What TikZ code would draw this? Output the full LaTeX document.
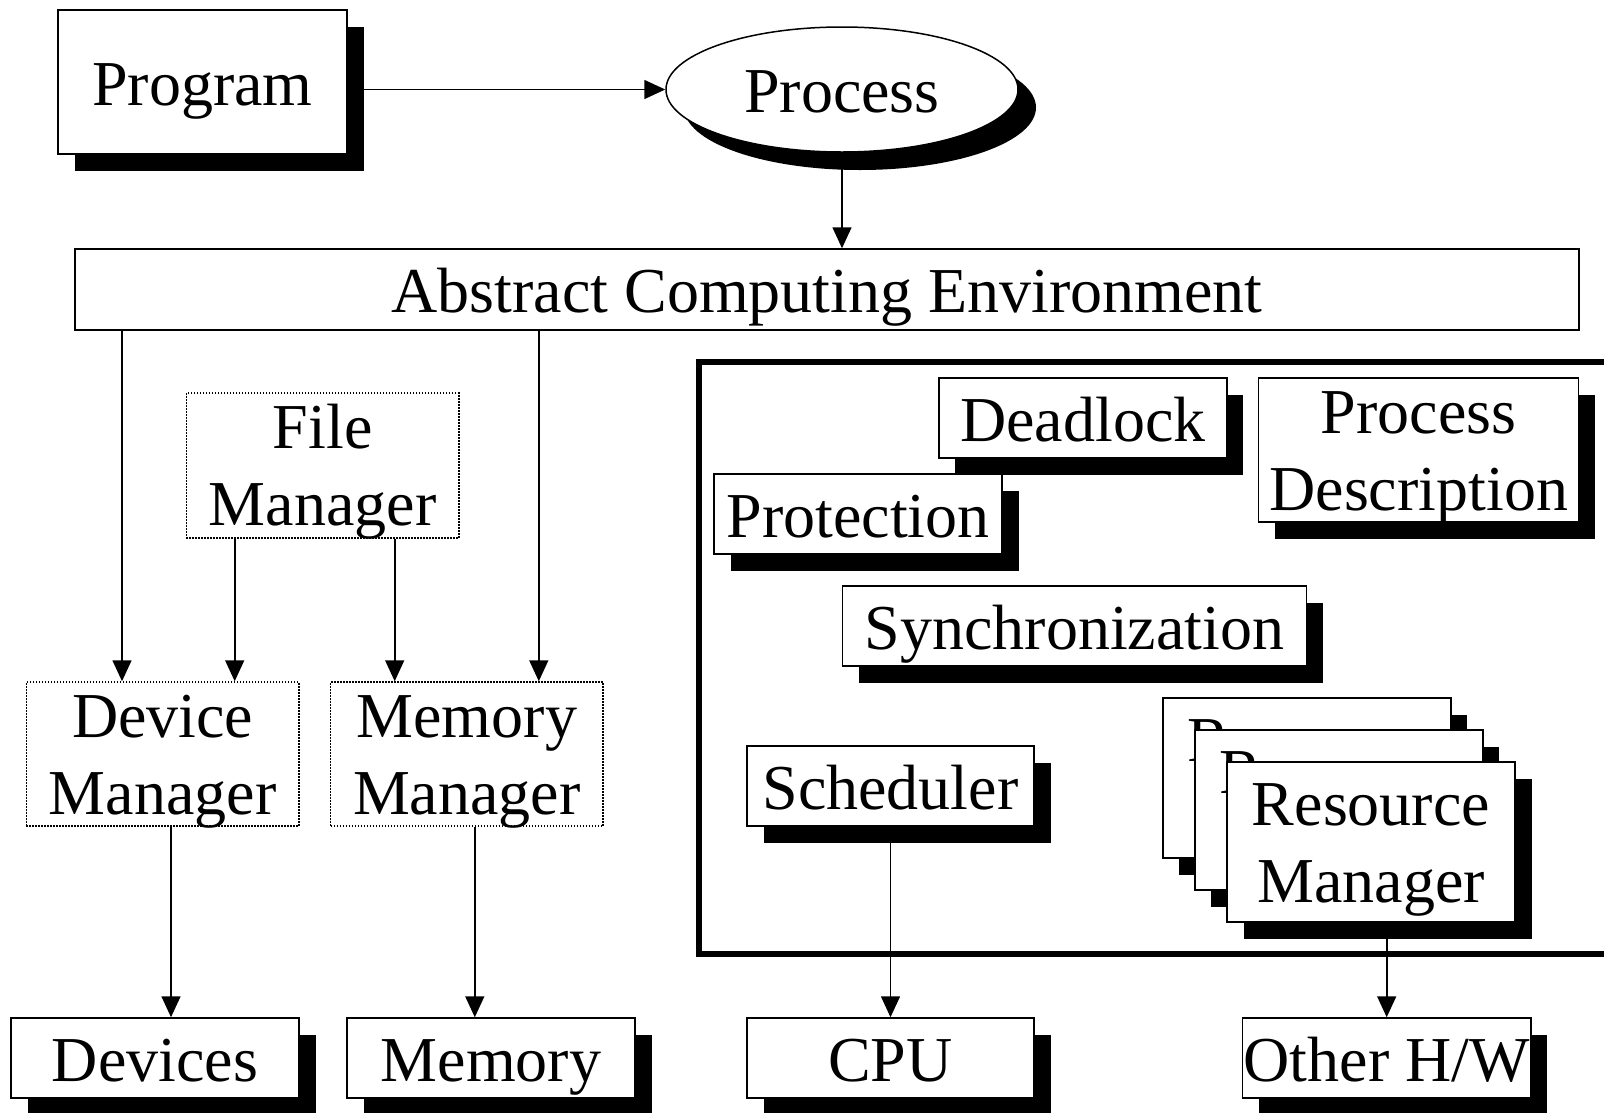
\documentclass[tikz,border=0pt]{standalone}
\usepackage{fontspec}
\setmainfont{Liberation Serif}
\usetikzlibrary{shapes.geometric,shadows,arrows.meta}
\tikzset{
  txt/.style={font=\fontsize{64pt}{77pt}\selectfont},
  shbox/.style={rectangle, draw=black, line width=1.5pt, fill=white, inner sep=0pt,
    text height=46pt, text depth=0pt, txt,
    drop shadow={shadow xshift=16.5pt, shadow yshift=-16.5pt, fill=black, opacity=1}},
  plainbox/.style={rectangle, draw=black, line width=1.5pt, fill=white, inner sep=0pt,
    text height=46pt, text depth=0pt, txt},
  dotbox/.style={rectangle, draw=black, line width=1.5pt, dash pattern=on 1.5pt off 1.5pt,
    inner sep=0pt},
  lbl/.style={anchor=base, inner sep=0pt, txt},
  arr/.style={line width=1.6pt, -{Triangle[length=21pt,width=19pt]}},
}
\begin{document}
\begin{tikzpicture}[x=1pt,y=-1pt]
\useasboundingbox (0,0) rectangle (1604,1112);
\clip (0,0) rectangle (1604,1112);
\fill[white] (0,0) rectangle (1604,1112);

% big panel
\draw[line width=6pt] (1660,362) -- (699,362) -- (699,954) -- (1660,954);

% top
\node[shbox, minimum width=289pt, minimum height=144pt] (prog) at (202.5,82) {Program};
\node[ellipse, draw=black, line width=1.5pt, fill=white, inner sep=0pt,
  minimum width=352pt, minimum height=125pt, text height=46pt, text depth=0pt, txt,
  drop shadow={shadow xshift=18pt, shadow yshift=-18pt, fill=black, opacity=1}]
  (proc) at (842,89.5) {Process};
\node[plainbox, minimum width=1504pt, minimum height=81pt] (ace) at (827,289.5)
  {Abstract Computing Environment};

% managers
\node[dotbox, minimum width=272.5pt, minimum height=145pt] (fm) at (322.7,465.5) {};
\node[lbl] (fm1) at ([yshift=17pt]fm.center) {File};
\node[lbl] (fm2) at ([yshift=-60pt]fm.center) {Manager};

\node[dotbox, minimum width=272.5pt, minimum height=144pt] (dm) at (162.7,754) {};
\node[lbl] (dm1) at ([yshift=17pt]dm.center) {Device};
\node[lbl] (dm2) at ([yshift=-60pt]dm.center) {Manager};

\node[dotbox, minimum width=272.5pt, minimum height=144pt] (mm) at (466.8,754) {};
\node[lbl] (mm1) at ([yshift=17pt]mm.center) {Memory};
\node[lbl] (mm2) at ([yshift=-60pt]mm.center) {Manager};

% hardware
\node[shbox, minimum width=288pt, minimum height=80pt] (dev) at (155,1058) {Devices};
\node[shbox, minimum width=288pt, minimum height=80pt] (mem) at (491,1058) {Memory};
\node[shbox, minimum width=287pt, minimum height=80pt] (cpu) at (890.5,1058) {CPU};
\node[shbox, minimum width=288.5pt, minimum height=80pt] (ohw) at (1386.7,1058) {Other H/W};

% panel contents
\node[shbox, minimum width=288pt, minimum height=80pt] (dl) at (1082.8,418) {Deadlock};
\node[shbox, minimum width=320pt, minimum height=144pt] (pd) at (1418.7,450) {};
\node[lbl] (pd1) at ([yshift=17pt]pd.center) {Process};
\node[lbl] (pd2) at ([yshift=-60pt]pd.center) {Description};
\node[shbox, minimum width=288pt, minimum height=80pt] (pr) at (858.2,514) {Protection};
\node[shbox, minimum width=464pt, minimum height=80pt] (sy) at (1074.6,626) {Synchronization};
\node[shbox, minimum width=287pt, minimum height=80pt] (sc) at (890.5,786) {Scheduler};

\node[shbox, minimum width=288pt, minimum height=160pt] (rmA) at (1306.8,778) {};
\node[lbl] (rmA1) at ([yshift=17pt]rmA.center) {Resource};
\node[lbl] (rmA2) at ([yshift=-60pt]rmA.center) {Manager};
\node[shbox, minimum width=288pt, minimum height=160pt] (rmB) at (1338.8,810) {};
\node[lbl] (rmB1) at ([yshift=17pt]rmB.center) {Resource};
\node[lbl] (rmB2) at ([yshift=-60pt]rmB.center) {Manager};
\node[shbox, minimum width=288pt, minimum height=160pt] (rmC) at (1371,842) {};
\node[lbl] (rmC1) at ([yshift=17pt]rmC.center) {Resource};
\node[lbl] (rmC2) at ([yshift=-60pt]rmC.center) {Manager};

% connectors
\draw[arr] (prog.east |- proc.west) -- (proc.west);
\draw[arr] (proc.south) -- (ace.north -| proc.south);

\coordinate (a1) at ([xshift=-40.7pt]dm.north);
\draw[arr] (ace.south -| a1) -- (a1);
\coordinate (f1) at ([xshift=-88pt]fm.south);
\draw[arr] (f1) -- (f1 |- dm.north);
\coordinate (f2) at ([xshift=72pt]fm.south);
\draw[arr] (f2) -- (f2 |- mm.north);
\coordinate (a2) at ([xshift=72pt]mm.north);
\draw[arr] (ace.south -| a2) -- (a2);

\coordinate (d1) at ([xshift=8.3pt]dm.south);
\draw[arr] (d1) -- (d1 |- dev.north);
\coordinate (m1) at ([xshift=8pt]mm.south);
\draw[arr] (m1) -- (m1 |- mem.north);
\draw[arr] (sc.south) -- (sc.south |- cpu.north);
\draw[arr] (rmC.south -| ohw.north) -- (ohw.north);
\end{tikzpicture}
\end{document}
